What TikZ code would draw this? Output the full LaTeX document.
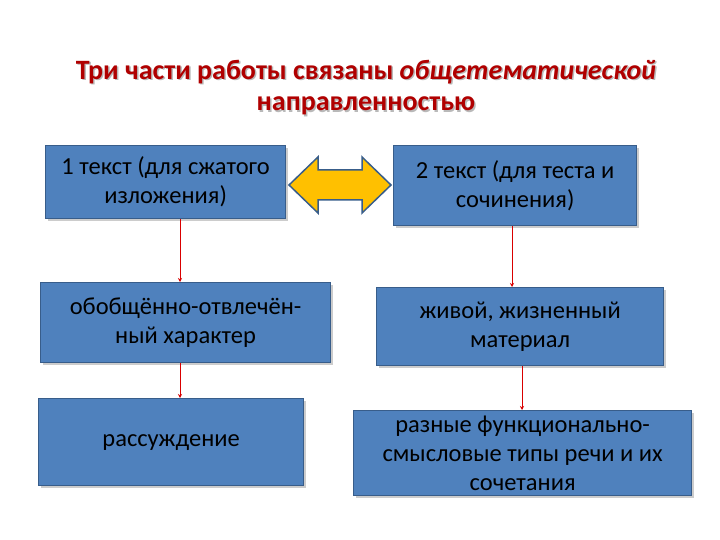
\documentclass[tikz,border=0pt]{standalone}
\usepackage{fontspec}
\setmainfont{Carlito}
\usetikzlibrary{arrows.meta,shadows}
\definecolor{boxblue}{HTML}{4F81BD}
\definecolor{boxedge}{HTML}{385D8A}
\definecolor{titlered}{HTML}{B00000}
\tikzset{
 box/.style={draw=boxedge,line width=1.2pt,fill=boxblue,align=center,font=\fontsize{24.5}{29}\selectfont,text=black,inner sep=0pt,anchor=north west,drop shadow={shadow xshift=2pt,shadow yshift=-2pt,opacity=0.4}},
 link/.style={draw=red!85!black,line width=1pt,-{Stealth[length=4pt,width=4pt]}},
 ttl/.style={font=\bfseries\fontsize{28}{33}\selectfont,text=titlered,inner sep=0pt}
}
\begin{document}
\begin{tikzpicture}[x=1pt,y=-1pt]
\useasboundingbox (0,0) rectangle (720,540);
\node[ttl,text=gray!55] at (367.5,73.5) {Три части работы связаны \textit{общетематической}};
\node[ttl] (t1) at (366,72) {Три части работы связаны \textit{общетематической}};
\node[ttl,text=gray!55] at (367.5,107.5) {направленностью};
\node[ttl] (t2) at (366,106) {направленностью};
\node[box,minimum width=240pt,minimum height=73pt] (b1) at (45,145) {1 текст (для сжатого\\изложения)};
\node[box,minimum width=243pt,minimum height=80pt] (b2) at (393,145) {2 текст (для теста и\\сочинения)};
\node[box,minimum width=290pt,minimum height=80pt] (b3) at (40,282) {обобщённо-отвлечён-\\ный характер};
\node[box,minimum width=287pt,minimum height=78pt] (b4) at (376,287) {живой, жизненный\\материал};
\node[box,minimum width=265pt,minimum height=87pt] (b5) at (38,398) {рассуждение};
\node[box,minimum width=338pt,minimum height=85pt] (b6) at (353,410) {разные функционально-\\смысловые типы речи и их\\сочетания};
\draw[draw=boxedge,line width=1.5pt,fill={rgb,255:red,255;green,192;blue,0}] (289,185) -- (318,157) -- (318,170) -- (362,170) -- (362,157) -- (391,185) -- (362,213) -- (362,200) -- (318,200) -- (318,213) -- cycle;
\draw[link] (b1.south -| 180,0) -- (b3.north -| 180,0);
\draw[link] (b3.south -| 180,0) -- (b5.north -| 180,0);
\draw[link] (b2.south -| 512,0) -- (b4.north -| 512,0);
\draw[link] (b4.south -| 522,0) -- (b6.north -| 522,0);
\end{tikzpicture}
\end{document}
